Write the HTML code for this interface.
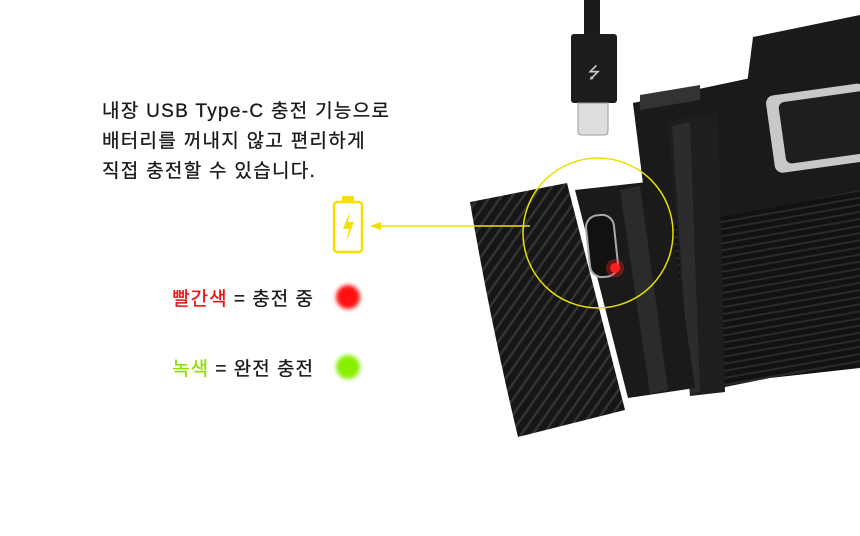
<!DOCTYPE html>
<html><head><meta charset="utf-8"><style>
body{margin:0;background:#fff;}
#c{position:relative;width:860px;height:536px;overflow:hidden;background:#fff;font-family:"Liberation Sans","Noto Sans CJK KR",sans-serif;}
.t{position:absolute;left:102px;font-size:19px;letter-spacing:1.3px;color:#1a1a1a;line-height:30px;white-space:nowrap;-webkit-text-stroke:0.3px #1a1a1a;}
.l{position:absolute;font-size:19px;letter-spacing:1px;color:#1a1a1a;white-space:nowrap;text-align:right;-webkit-text-stroke:0.3px currentColor;}
.dot{position:absolute;width:24px;height:24px;border-radius:50%;filter:blur(2px);}
</style></head><body><div id="c">
<svg width="860" height="536" style="position:absolute;left:0;top:0">
<defs>
<pattern id="kn" width="9" height="9" patternUnits="userSpaceOnUse" patternTransform="rotate(35)"><rect width="9" height="9" fill="#161616"/><rect width="2.5" height="9" fill="#333"/></pattern>
<pattern id="rib" width="8" height="7" patternUnits="userSpaceOnUse" patternTransform="rotate(-10)"><rect width="8" height="7" fill="#121212"/><rect width="8" height="2" fill="#2a2a2a"/></pattern>
</defs>
<rect x="584" y="0" width="16" height="36" fill="#1a1a1a"/>
<rect x="571" y="34" width="46" height="69" rx="3" fill="#1c1c1c"/>
<path d="M578 103h30v28q0 4-4 4h-22q-4 0-4-4z" fill="#ddd" stroke="#999"/>
<text x="594" y="78" font-size="16" fill="#ccc" text-anchor="middle">⭍</text>
<polygon points="753,37 860,15 860,82 745,100" fill="#1b1b1b"/>
<polygon points="633,103 860,55 860,368 770,378 700,392 645,200" fill="url(#rib)"/>
<polygon points="633,103 860,55 860,190 760,210 650,230" fill="#1a1a1a"/>
<polygon points="640,95 700,85 700,100 640,110" fill="#333"/>
<rect x="770" y="92" width="100" height="78" rx="8" fill="#c8c8c8" transform="rotate(-8 800 130)"/>
<rect x="782" y="100" width="90" height="62" rx="6" fill="#1e1e1e" transform="rotate(-8 800 130)"/>
<polygon points="668,122 718,112 725,392 690,396" fill="#1e1e1e"/>
<polygon points="672,126 690,122 700,392 690,394" fill="#2c2c2c"/>
<polygon points="575,190 665,180 695,388 628,398" fill="#1a1a1a"/>
<polygon points="620,190 640,186 668,390 650,394" fill="#2b2b2b"/>
<rect x="588" y="215" width="28" height="62" rx="12" fill="#111" stroke="#aaa" stroke-width="2" transform="rotate(-6 602 246)"/>
<circle cx="615" cy="268" r="5" fill="#ff2020"/>
<circle cx="615" cy="268" r="9" fill="#ff2020" opacity="0.35"/>
<path d="M470,202 L567,183 L625,410 L518,437 Q490,320 470,202z" fill="url(#kn)"/>
<circle cx="598" cy="233" r="75" fill="none" stroke="#e8e000" stroke-width="1.5"/>
<line x1="372" y1="226" x2="530" y2="226" stroke="#f0e000" stroke-width="1.5"/>
<polygon points="370,226 381,222 381,230" fill="#f0e000"/>
<rect x="334" y="202" width="28" height="50" rx="3" fill="none" stroke="#f5e000" stroke-width="2.5"/>
<rect x="342" y="196" width="12" height="6" rx="1" fill="#f5e000"/>
<polygon points="350,211 343,229 349,229 346,242 354,222 348,222" fill="#f5e000"/>
</svg>
<div class="t" style="top:97px">내장 USB Type-C 충전 기능으로</div>
<div class="t" style="top:127px">배터리를 꺼내지 않고 편리하게</div>
<div class="t" style="top:157px">직접 충전할 수 있습니다.</div>
<div class="l" style="right:546px;top:284px"><span style="color:#f01010">빨간색</span> = 충전 중</div>
<div class="l" style="right:546px;top:354px"><span style="color:#8ee000">녹색</span> = 완전 충전</div>
<div class="dot" style="left:336px;top:285px;background:#ff1010"></div>
<div class="dot" style="left:336px;top:355px;background:#88f000"></div>
</div></body></html>
